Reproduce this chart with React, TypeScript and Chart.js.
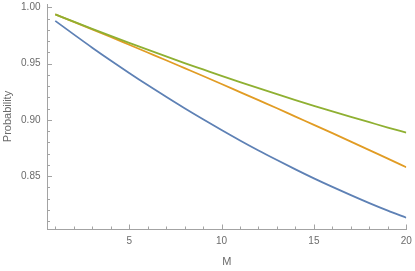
import React, { useEffect, useRef } from "react";
import { Chart, registerables } from "chart.js";

Chart.register(...registerables);

const mValues = [1, 2, 3, 4, 5, 6, 7, 8, 9, 10, 11, 12, 13, 14, 15, 16, 17, 18, 19, 20];
const blueSeries = [0.9880, 0.9760, 0.9642, 0.9528, 0.9417, 0.9309, 0.9205, 0.9103, 0.9005, 0.8910, 0.8817, 0.8728, 0.8643, 0.8560, 0.8480, 0.8404, 0.8331, 0.8260, 0.8193, 0.8130];
const orangeSeries = [0.9938, 0.9871, 0.9804, 0.9737, 0.9668, 0.9599, 0.9530, 0.9460, 0.9390, 0.9319, 0.9247, 0.9175, 0.9103, 0.9029, 0.8956, 0.8882, 0.8807, 0.8731, 0.8656, 0.8579];
const greenSeries = [0.9938, 0.9873, 0.9809, 0.9746, 0.9684, 0.9624, 0.9564, 0.9505, 0.9448, 0.9391, 0.9336, 0.9282, 0.9228, 0.9176, 0.9125, 0.9075, 0.9026, 0.8979, 0.8932, 0.8886];
const xMajorTicks = [5, 10, 15, 20];
const yMajorTicks = [0.85, 0.9, 0.95, 1.0];
const xMinorTicks = mValues;
const yMinorTicks = [0.81, 0.82, 0.83, 0.84, 0.85, 0.86, 0.87, 0.88, 0.89, 0.9, 0.91, 0.92, 0.93, 0.94, 0.95, 0.96, 0.97, 0.98, 0.99, 1.0];

const AXIS_COLOR = "#a3a3a3";
const TEXT_COLOR = "#6b6b6b";
const FONT = "'Liberation Sans', Arial, sans-serif";

const toPoints = (ys: number[]) => mValues.map((x, i) => ({ x, y: ys[i] }));

const ticksPlugin = {
  id: "inwardTicks",
  afterDatasetsDraw(chart: any) {
    const { ctx, scales } = chart;
    const xs = scales.x;
    const ys = scales.y;
    const area = chart.chartArea;
    ctx.save();
    ctx.strokeStyle = AXIS_COLOR;
    ctx.lineWidth = 1;
    xMinorTicks.forEach((v) => {
      const px = Math.round(xs.getPixelForValue(v)) + 0.5;
      const len = v % 5 === 0 ? 4.5 : 2.5;
      ctx.beginPath();
      ctx.moveTo(px, area.bottom);
      ctx.lineTo(px, area.bottom - len);
      ctx.stroke();
    });
    yMinorTicks.forEach((v) => {
      const py = Math.round(ys.getPixelForValue(v)) + 0.5;
      const major = Math.round(v * 100) % 5 === 0;
      const len = major ? 4.5 : 2.5;
      ctx.beginPath();
      ctx.moveTo(area.left, py);
      ctx.lineTo(area.left + len, py);
      ctx.stroke();
    });
    ctx.restore();
  },
};

export default function App() {
  const canvasRef = useRef<HTMLCanvasElement | null>(null);

  useEffect(() => {
    if (!canvasRef.current) return;
    const mk = (label: string, ys: number[], color: string, order: number) => ({
      label,
      data: toPoints(ys),
      borderColor: color,
      borderWidth: 1.8,
      pointRadius: 0,
      cubicInterpolationMode: "monotone",
      fill: false,
      order,
    });
    const chart = new Chart(canvasRef.current, {
      type: "line",
      data: {
        datasets: [
          mk("blue", blueSeries, "#5e81b5", 3),
          mk("orange", orangeSeries, "#e19c24", 2),
          mk("green", greenSeries, "#8fb032", 1),
        ],
      },
      options: {
        responsive: false,
        animation: false,
        events: [],
        layout: { padding: { top: 4, right: 8.7, bottom: 0, left: 0 } },
        plugins: { legend: { display: false }, tooltip: { enabled: false } },
        scales: {
          x: {
            type: "linear",
            min: 0.58,
            max: 20,
            afterBuildTicks: (s: any) => {
              s.ticks = xMajorTicks.map((v) => ({ value: v }));
            },
            afterFit: (s: any) => {
              s.height = 42;
              s.paddingLeft = 0;
              s.paddingRight = 0;
            },
            grid: { display: false, drawTicks: false },
            border: { display: true, color: AXIS_COLOR, width: 1 },
            ticks: {
              padding: 6,
              color: TEXT_COLOR,
              font: { family: FONT, size: 10 },
              maxRotation: 0,
              callback: (v: any) => String(v),
            },
            title: {
              display: true,
              text: "M",
              color: TEXT_COLOR,
              font: { family: FONT, size: 11 },
              padding: { top: 0, bottom: 2 },
            },
          },
          y: {
            type: "linear",
            min: 0.803,
            max: 1.003,
            afterBuildTicks: (s: any) => {
              s.ticks = yMajorTicks.map((v) => ({ value: v }));
            },
            afterFit: (s: any) => {
              s.width = 47.5;
              s.paddingTop = 0;
              s.paddingBottom = 0;
            },
            grid: { display: false, drawTicks: false },
            border: { display: true, color: AXIS_COLOR, width: 1 },
            ticks: {
              padding: 7,
              color: TEXT_COLOR,
              font: { family: FONT, size: 10 },
              callback: (v: any) => Number(v).toFixed(2),
            },
            title: {
              display: true,
              text: "Probability",
              color: TEXT_COLOR,
              font: { family: FONT, size: 11 },
              padding: { top: 1.5, bottom: 0 },
            },
          },
        },
      },
      plugins: [ticksPlugin],
    } as any);
    return () => chart.destroy();
  }, []);

  return (
    <div style={{ position: "fixed", left: 0, top: 0, width: 415, height: 271, background: "#fff" }}>
      <canvas ref={canvasRef} width={415} height={271} />
    </div>
  );
}
